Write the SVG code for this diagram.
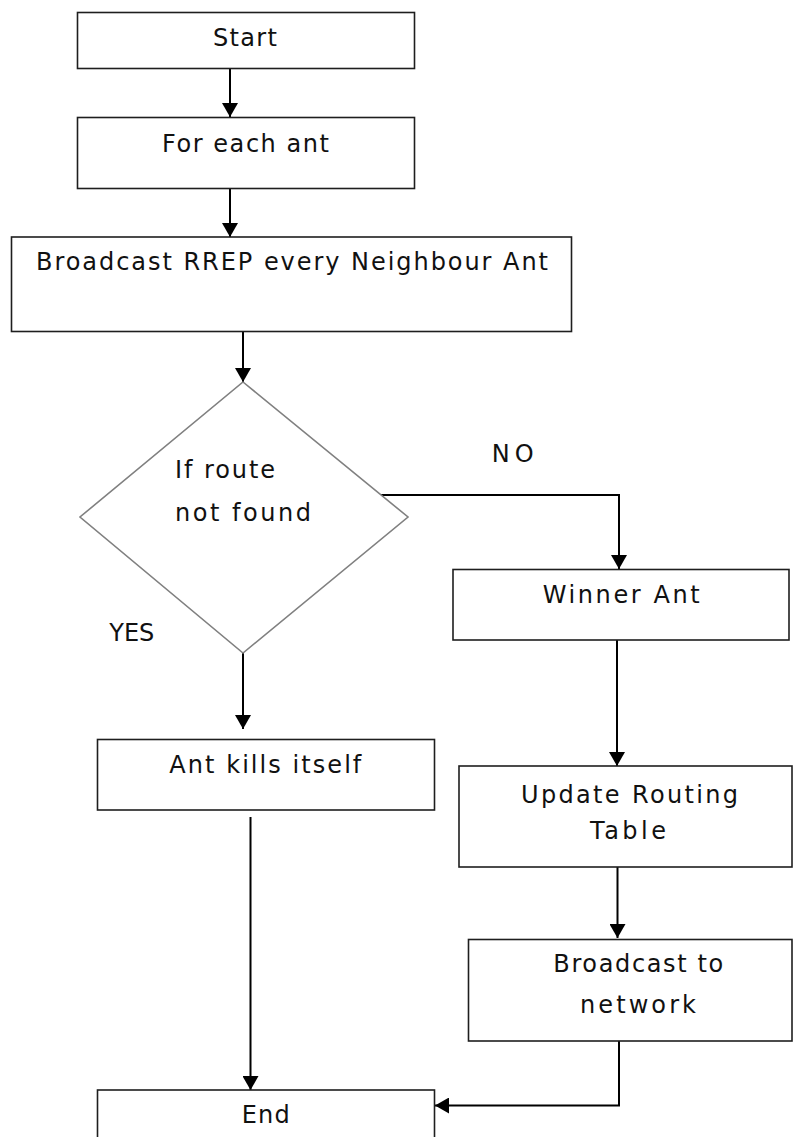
<svg xmlns="http://www.w3.org/2000/svg" width="795" height="1137" viewBox="0 0 795 1137">
<style>
.box{fill:#fff;stroke:#1e1e1e;stroke-width:1.6}
.dia{fill:#fff;stroke:#808080;stroke-width:1.6}
.con{fill:none;stroke:#000;stroke-width:2}
text{font-family:"DejaVu Sans","Liberation Sans",sans-serif;font-size:24px;fill:#111}
</style>
<defs>
<marker id="ah" viewBox="0 0 14 16" refX="14" refY="8" markerWidth="14" markerHeight="16" markerUnits="userSpaceOnUse" orient="auto">
<path d="M0,0 L14,8 L0,16 z" fill="#000"/>
</marker>
</defs>
<rect width="795" height="1137" fill="#fff"/>
<g id="connectors">
<path class="con" d="M230,68.5 V117" marker-end="url(#ah)"/>
<path class="con" d="M230,188.5 V237" marker-end="url(#ah)"/>
<path class="con" d="M243,331.5 V382" marker-end="url(#ah)"/>
<path class="con" d="M381,495 H619 V569" marker-end="url(#ah)"/>
<path class="con" d="M243,653 V729" marker-end="url(#ah)"/>
<path class="con" d="M250.5,817 V1090" marker-end="url(#ah)"/>
<path class="con" d="M617,640 V766" marker-end="url(#ah)"/>
<path class="con" d="M617.5,867 V938" marker-end="url(#ah)"/>
<path class="con" d="M619,1041 V1105.5 H435" marker-end="url(#ah)"/>
</g>
<g id="start">
<rect class="box" x="77.5" y="12.5" width="337" height="56"/>
<text x="213" y="45.7" textLength="64" lengthAdjust="spacing">Start</text>
</g>
<g id="foreach">
<rect class="box" x="77.5" y="117.5" width="337" height="71"/>
<text x="162" y="151.7" textLength="167" lengthAdjust="spacing">For each ant</text>
</g>
<g id="broadcast-rrep">
<rect class="box" x="11.5" y="237" width="560" height="94.5"/>
<text x="36" y="270" textLength="512" lengthAdjust="spacing">Broadcast RREP every Neighbour Ant</text>
</g>
<g id="decision">
<polygon class="dia" points="243,382 408,517 243,653 80,517"/>
<text x="175" y="478.3" textLength="100" lengthAdjust="spacing">If route</text>
<text x="175" y="520.7" textLength="136" lengthAdjust="spacing">not found</text>
</g>
<g id="label-no">
<text x="491.7" y="461.7" textLength="42" lengthAdjust="spacing">NO</text>
</g>
<g id="label-yes">
<text x="109.3" y="640.7" textLength="45" lengthAdjust="spacing">YES</text>
</g>
<g id="winner">
<rect class="box" x="453" y="569.5" width="336" height="70.5"/>
<text x="542.7" y="602.7" textLength="157" lengthAdjust="spacing">Winner Ant</text>
</g>
<g id="kill">
<rect class="box" x="97.5" y="739.5" width="337" height="70.5"/>
<text x="169.3" y="772.7" textLength="192" lengthAdjust="spacing">Ant kills itself</text>
</g>
<g id="update">
<rect class="box" x="459" y="766" width="333" height="101"/>
<text x="521" y="803.3" textLength="217" lengthAdjust="spacing">Update Routing</text>
<text x="590" y="839.3" textLength="76" lengthAdjust="spacing">Table</text>
</g>
<g id="broadcast-net">
<rect class="box" x="468.5" y="939.5" width="323.5" height="101.5"/>
<text x="553.3" y="972.3" textLength="170" lengthAdjust="spacing">Broadcast to</text>
<text x="580" y="1012.7" textLength="116" lengthAdjust="spacing">network</text>
</g>
<g id="end">
<rect class="box" x="97.5" y="1090" width="337" height="60"/>
<text x="241.7" y="1123.3" textLength="48" lengthAdjust="spacing">End</text>
</g>
</svg>
